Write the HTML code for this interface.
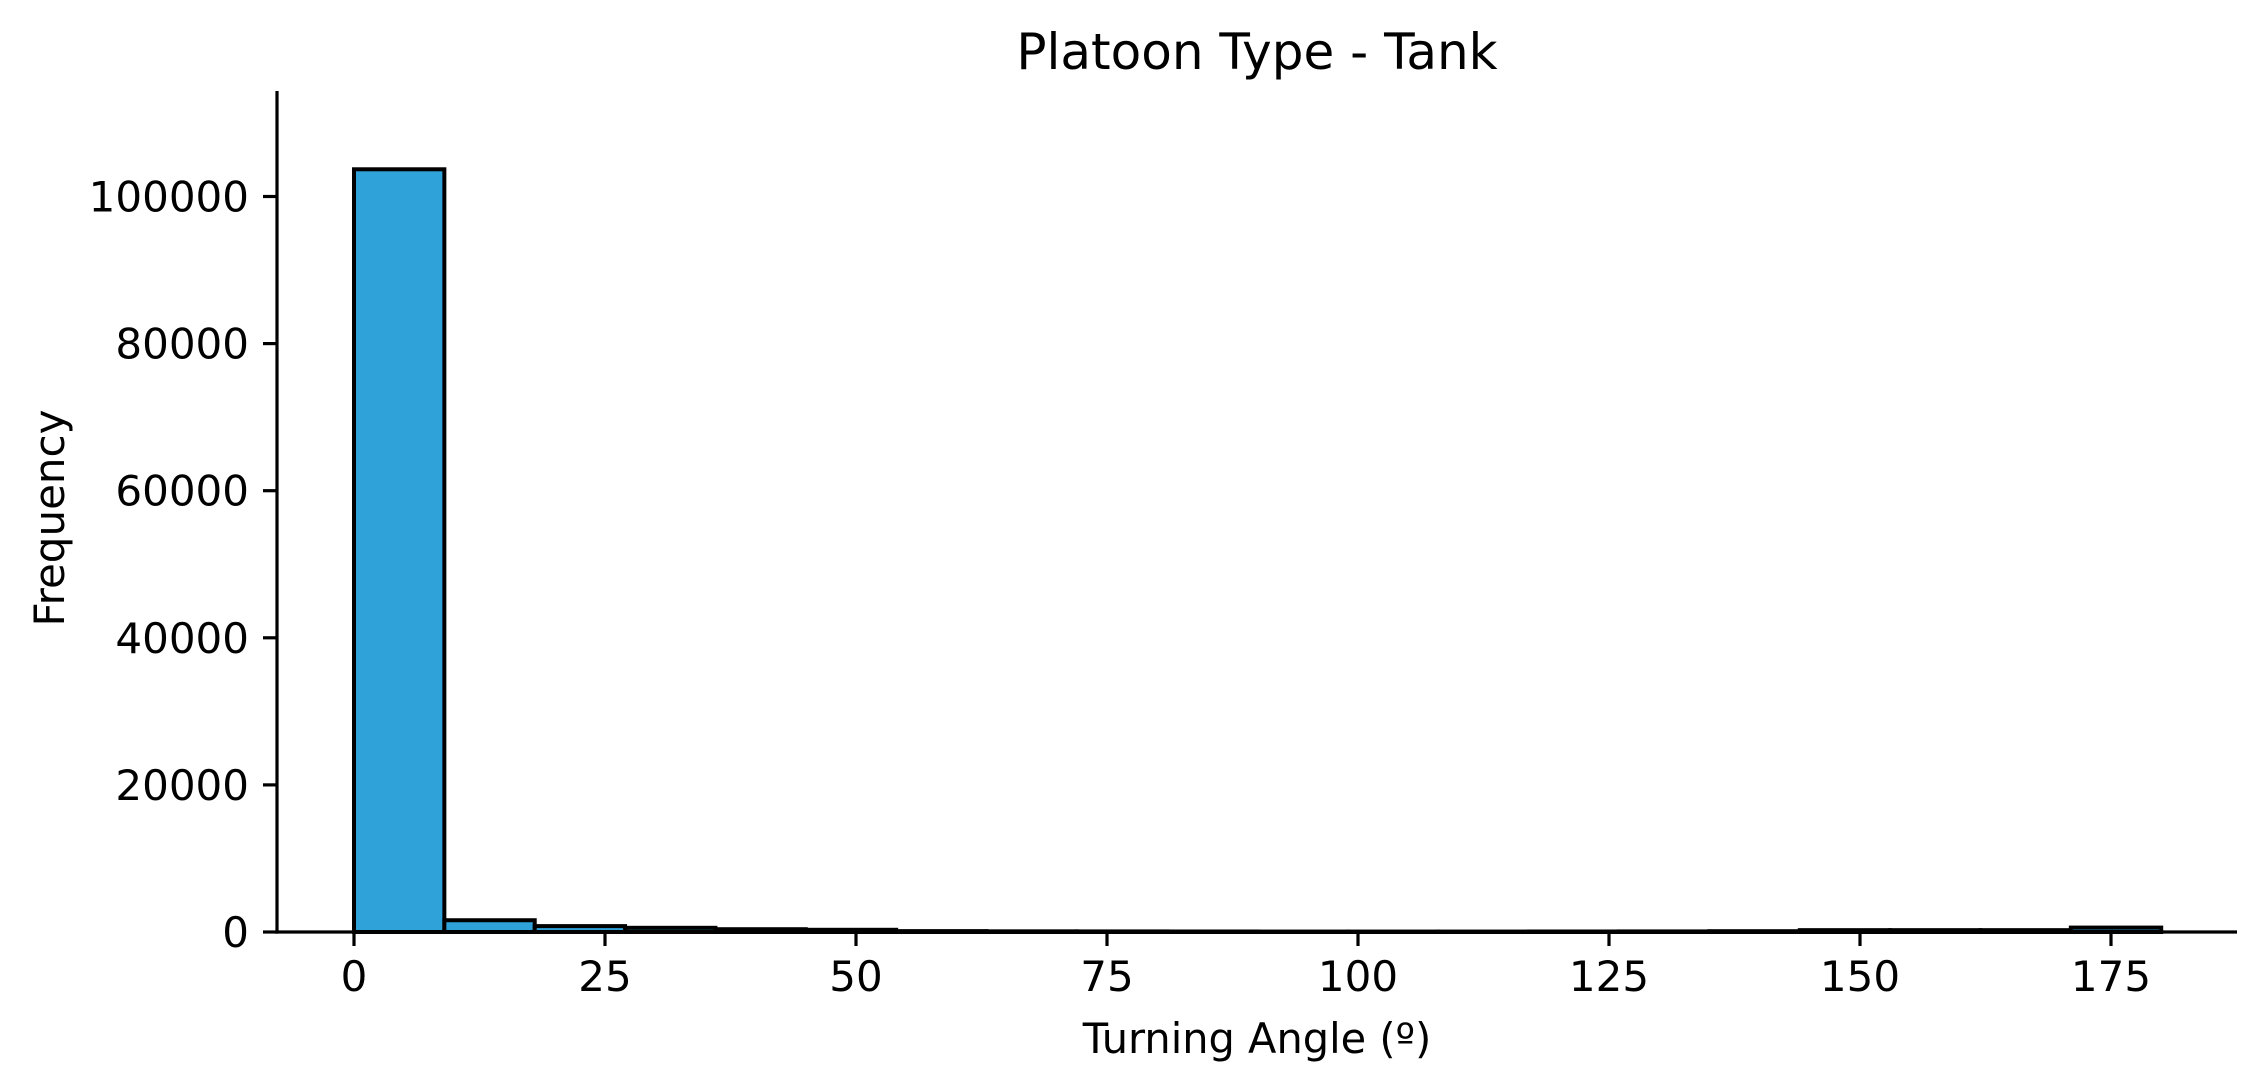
<!DOCTYPE html>
<html><head><meta charset="utf-8"><style>
html,body{margin:0;padding:0;background:#fff;}
svg{display:block;font-family:"DejaVu Sans","Liberation Sans",sans-serif;}
</style></head><body>
<svg id="chart" width="2266" height="1092" viewBox="0 0 2266 1092" xmlns="http://www.w3.org/2000/svg">
<rect width="2266" height="1092" fill="#fff"/>
<text x="1257" y="69" text-anchor="middle" font-size="50" fill="#000">Platoon Type - Tank</text>
<text x="1257" y="1053" text-anchor="middle" font-size="41.5" fill="#000">Turning Angle (º)</text>
<text transform="translate(64,518) rotate(-90)" text-anchor="middle" font-size="42" fill="#000">Frequency</text>
<g id="bars"></g>
<g id="axes"></g>
</svg>
<script>
const binEdgesStart = [0,9,18,27,36,45,54,63,72,81,90,99,108,117,126,135,144,153,162,171];
const binWidth = 9;
const counts = [103700,1600,800,570,380,300,120,90,80,70,60,60,60,70,80,110,250,250,250,600];
const xTicks = [0,25,50,75,100,125,150,175];
const yTicks = [0,20000,40000,60000,80000,100000];

const X0 = 354, XS = 10.04;   // px at 0 and px per degree
const Y0 = 932, YS = 735.5/100000;
const AX_L = 277, AX_R = 2237, AX_T = 91;
function xp(v){return X0 + v*XS;}
function yp(v){return Y0 - v*YS;}
const NS = "http://www.w3.org/2000/svg";
const bars = document.getElementById('bars');
const axes = document.getElementById('axes');

counts.forEach((c,i)=>{
  const r = document.createElementNS(NS,'rect');
  const x1 = xp(binEdgesStart[i]), x2 = xp(binEdgesStart[i]+binWidth);
  r.setAttribute('x', x1); r.setAttribute('width', x2-x1);
  r.setAttribute('y', yp(c)); r.setAttribute('height', Y0-yp(c));
  r.setAttribute('fill','#30a2da'); r.setAttribute('stroke','#000'); r.setAttribute('stroke-width','4');
  
  
  bars.appendChild(r);
});

function line(x1,y1,x2,y2,w,name){
  const l = document.createElementNS(NS,'line');
  l.setAttribute('x1',x1);l.setAttribute('y1',y1);l.setAttribute('x2',x2);l.setAttribute('y2',y2);
  l.setAttribute('stroke','#000');l.setAttribute('stroke-width',w);
  
  
  axes.appendChild(l);
}
function text(x,y,s,anchor,name){
  const t = document.createElementNS(NS,'text');
  t.setAttribute('x',x);t.setAttribute('y',y);t.setAttribute('text-anchor',anchor);
  t.setAttribute('font-size','42');t.setAttribute('fill','#000');
  t.textContent = s;
  
  
  axes.appendChild(t);
}
line(AX_L, AX_T, AX_L, Y0+1.6, 3.2, 'y-axis-spine');
line(AX_L-1.6, Y0, AX_R, Y0, 3.2, 'x-axis-spine');
xTicks.forEach(v=>{
  line(xp(v), Y0, xp(v), Y0+14, 3.2, 'x-tick');
  text(xp(v), Y0+59, String(v), 'middle', 'x-tick-label');
});
yTicks.forEach(v=>{
  line(AX_L-14, yp(v), AX_L, yp(v), 3.2, 'y-tick');
  text(AX_L-28, yp(v)+15, String(v), 'end', 'y-tick-label');
});
</script>
</body></html>
